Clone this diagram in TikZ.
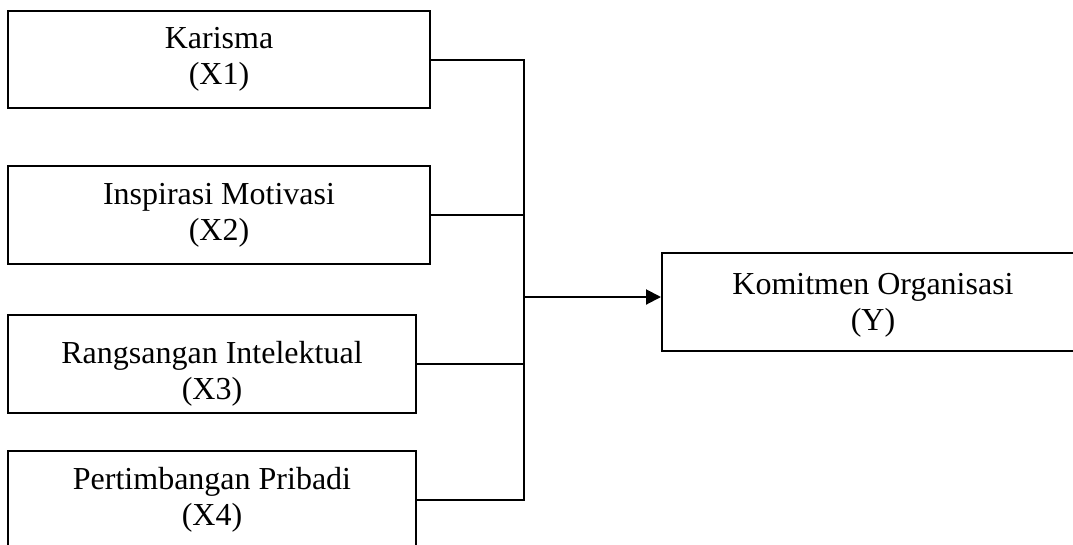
\documentclass[tikz,border=0pt]{standalone}
\usepackage{fontspec}
\setmainfont{Liberation Serif}
\usetikzlibrary{arrows.meta}
\begin{document}
\begin{tikzpicture}[x=1pt,y=-1pt,
  line width=2pt,
  box/.style={draw=black, line width=2pt, rectangle, inner sep=0pt,
    align=center, font=\fontsize{32}{36}\selectfont},
  link/.style={draw=black, line width=2pt},
  arr/.style={link, -{Triangle[length=15pt,width=15pt]}}]
\clip (0,0) rectangle (1073,544);
\useasboundingbox (0,0) rectangle (1073,544);
\node[box, minimum width=422pt, minimum height=97pt] (x1) at (219,59.5) {Karisma\\(X1)};
\node[box, minimum width=422pt, minimum height=98pt] (x2) at (219,215) {Inspirasi Motivasi\\(X2)};
\node[box, minimum width=408pt, minimum height=98pt,
  label={[name=x3t, font=\fontsize{32}{36}\selectfont, align=center, yshift=-10pt, inner sep=0pt]center:Rangsangan Intelektual\\(X3)}] (x3) at (212,364) {};
\node[box, minimum width=408pt, minimum height=98pt] (x4) at (212,500) {Pertimbangan Pribadi\\(X4)};
\node[box, minimum width=422pt, minimum height=98pt,
  label={[name=yt, font=\fontsize{32}{36}\selectfont, align=center, yshift=-3pt, inner sep=0pt]center:Komitmen Organisasi\\(Y)}] (y) at (873,302) {};
\coordinate (j) at (524,297);
\draw[link] (x1.east) -| (j);
\draw[link] (x2.east) -| (j);
\draw[link] (x3.east) -| (j);
\draw[link] (x4.east) -| (j);
\draw[arr] (j) -- (y.west |- j);
\end{tikzpicture}
\end{document}
